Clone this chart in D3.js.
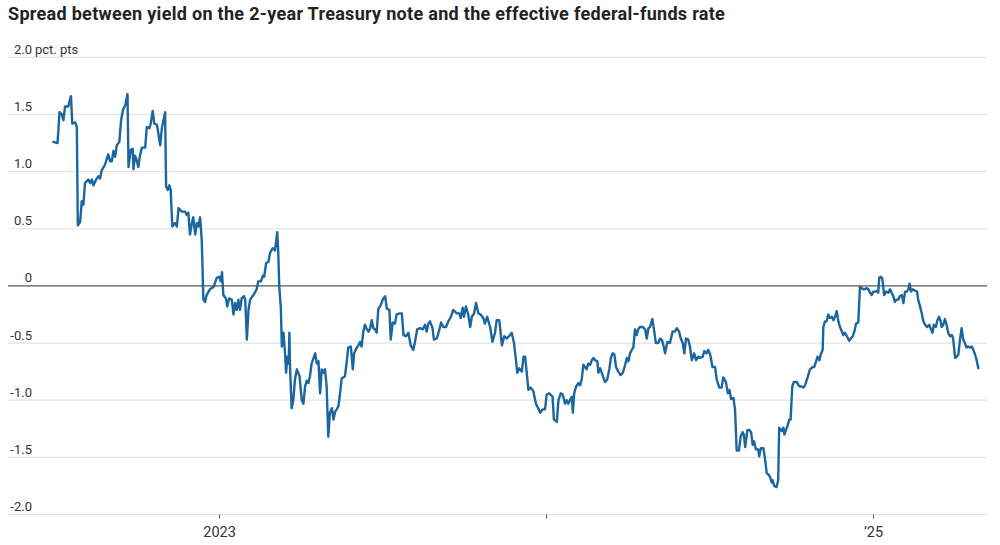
<!DOCTYPE html>
<html>
<head>
<meta charset="utf-8">
<script src="https://cdn.jsdelivr.net/npm/d3@7"></script>
<style>
  html, body { margin: 0; padding: 0; background: #fff; }
  svg { display: block; font-family: Roboto, "Noto Sans", sans-serif; }
</style>
</head>
<body>
<svg id="chart" width="1000" height="545"></svg>
<script>
// ─── DONNÉES ────────────────────────────────────────────────────────────────
const chartTitle = "Spread between yield on the 2-year Treasury note and the effective federal-funds rate";
const unitLabel = "pct. pts";

const yTicks = [2.0, 1.5, 1.0, 0.5, 0, -0.5, -1.0, -1.5, -2.0];
const yTickLabels = ["2.0", "1.5", "1.0", "0.5", "0", "-0.5", "-1.0", "-1.5", "-2.0"];
const xTicks = [2023, 2024, 2025];
const xTickLabels = ["2023", "", "\u201925"];

// observation dates, as decimal years
const obsYear = [
  2022.493, 2022.506, 2022.512, 2022.519, 2022.524, 2022.529, 2022.539, 2022.542, 2022.547, 2022.551,
  2022.560, 2022.565, 2022.568, 2022.575, 2022.580, 2022.585, 2022.590, 2022.600, 2022.606, 2022.611,
  2022.616, 2022.624, 2022.631, 2022.636, 2022.641, 2022.651, 2022.661, 2022.667, 2022.672, 2022.677,
  2022.682, 2022.687, 2022.695, 2022.700, 2022.706, 2022.713, 2022.720, 2022.723, 2022.730, 2022.736,
  2022.738, 2022.743, 2022.748, 2022.753, 2022.758, 2022.764, 2022.774, 2022.779, 2022.787, 2022.791,
  2022.797, 2022.802, 2022.810, 2022.814, 2022.820, 2022.825, 2022.835, 2022.838, 2022.843, 2022.848,
  2022.852, 2022.857, 2022.865, 2022.871, 2022.876, 2022.886, 2022.896, 2022.901, 2022.906, 2022.911,
  2022.917, 2022.921, 2022.927, 2022.932, 2022.937, 2022.942, 2022.947, 2022.952, 2022.957, 2022.962,
  2022.972, 2022.983, 2022.993, 2023.001, 2023.005, 2023.009, 2023.013, 2023.021, 2023.025, 2023.031,
  2023.039, 2023.044, 2023.049, 2023.054, 2023.059, 2023.064, 2023.069, 2023.076, 2023.080, 2023.085,
  2023.090, 2023.095, 2023.105, 2023.115, 2023.120, 2023.128, 2023.134, 2023.138, 2023.144, 2023.151,
  2023.156, 2023.164, 2023.171, 2023.178, 2023.181, 2023.184, 2023.189, 2023.192, 2023.197, 2023.202,
  2023.205, 2023.209, 2023.213, 2023.215, 2023.217, 2023.222, 2023.227, 2023.232, 2023.238, 2023.246,
  2023.253, 2023.258, 2023.263, 2023.268, 2023.273, 2023.278, 2023.283, 2023.294, 2023.299, 2023.304,
  2023.309, 2023.314, 2023.319, 2023.324, 2023.329, 2023.334, 2023.339, 2023.345, 2023.350, 2023.355,
  2023.360, 2023.365, 2023.370, 2023.375, 2023.385, 2023.391, 2023.395, 2023.403, 2023.409, 2023.413,
  2023.421, 2023.426, 2023.431, 2023.436, 2023.441, 2023.446, 2023.452, 2023.457, 2023.462, 2023.467,
  2023.472, 2023.477, 2023.482, 2023.487, 2023.494, 2023.502, 2023.508, 2023.513, 2023.521, 2023.525,
  2023.531, 2023.538, 2023.543, 2023.553, 2023.559, 2023.564, 2023.572, 2023.579, 2023.586, 2023.594,
  2023.599, 2023.606, 2023.615, 2023.623, 2023.630, 2023.635, 2023.640, 2023.645, 2023.653, 2023.657,
  2023.666, 2023.674, 2023.679, 2023.686, 2023.694, 2023.701, 2023.709, 2023.716, 2023.727, 2023.735,
  2023.739, 2023.745, 2023.749, 2023.755, 2023.762, 2023.768, 2023.773, 2023.780, 2023.786, 2023.793,
  2023.800, 2023.808, 2023.813, 2023.820, 2023.829, 2023.836, 2023.844, 2023.849, 2023.857, 2023.865,
  2023.872, 2023.880, 2023.890, 2023.895, 2023.902, 2023.908, 2023.912, 2023.918, 2023.926, 2023.931,
  2023.936, 2023.941, 2023.946, 2023.953, 2023.961, 2023.969, 2023.976, 2023.982, 2023.990, 2023.997,
  2024.002, 2024.010, 2024.020, 2024.024, 2024.033, 2024.038, 2024.045, 2024.051, 2024.058, 2024.063,
  2024.068, 2024.073, 2024.079, 2024.082, 2024.086, 2024.092, 2024.099, 2024.104, 2024.109, 2024.114,
  2024.119, 2024.124, 2024.129, 2024.135, 2024.140, 2024.145, 2024.150, 2024.157, 2024.160, 2024.165,
  2024.173, 2024.180, 2024.187, 2024.194, 2024.199, 2024.204, 2024.209, 2024.214, 2024.221, 2024.228,
  2024.235, 2024.242, 2024.247, 2024.252, 2024.257, 2024.262, 2024.267, 2024.272, 2024.277, 2024.282,
  2024.287, 2024.296, 2024.303, 2024.308, 2024.313, 2024.318, 2024.325, 2024.330, 2024.336, 2024.343,
  2024.349, 2024.354, 2024.359, 2024.364, 2024.371, 2024.379, 2024.387, 2024.394, 2024.400, 2024.407,
  2024.412, 2024.418, 2024.423, 2024.428, 2024.435, 2024.440, 2024.446, 2024.453, 2024.459, 2024.466,
  2024.471, 2024.479, 2024.484, 2024.491, 2024.496, 2024.502, 2024.509, 2024.517, 2024.522, 2024.530,
  2024.537, 2024.542, 2024.550, 2024.556, 2024.561, 2024.566, 2024.573, 2024.578, 2024.583, 2024.590,
  2024.595, 2024.601, 2024.605, 2024.609, 2024.616, 2024.622, 2024.627, 2024.632, 2024.636, 2024.642,
  2024.649, 2024.652, 2024.657, 2024.665, 2024.670, 2024.675, 2024.680, 2024.685, 2024.690, 2024.693,
  2024.698, 2024.705, 2024.710, 2024.713, 2024.721, 2024.726, 2024.729, 2024.734, 2024.739, 2024.744,
  2024.748, 2024.753, 2024.758, 2024.767, 2024.772, 2024.777, 2024.782, 2024.787, 2024.792, 2024.799,
  2024.807, 2024.816, 2024.820, 2024.826, 2024.830, 2024.836, 2024.840, 2024.846, 2024.848, 2024.853,
  2024.858, 2024.863, 2024.868, 2024.874, 2024.879, 2024.884, 2024.889, 2024.894, 2024.899, 2024.909,
  2024.914, 2024.920, 2024.927, 2024.932, 2024.938, 2024.943, 2024.948, 2024.955, 2024.960, 2024.965,
  2024.972, 2024.981, 2024.986, 2024.991, 2024.996, 2025.001, 2025.008, 2025.013, 2025.016, 2025.019,
  2025.023, 2025.028, 2025.031, 2025.034, 2025.040, 2025.047, 2025.052, 2025.057, 2025.062, 2025.067,
  2025.072, 2025.077, 2025.082, 2025.088, 2025.093, 2025.098, 2025.103, 2025.108, 2025.112, 2025.116,
  2025.121, 2025.128, 2025.135, 2025.138, 2025.144, 2025.149, 2025.154, 2025.159, 2025.166, 2025.172,
  2025.176, 2025.182, 2025.186, 2025.192, 2025.197, 2025.202, 2025.207, 2025.210, 2025.215, 2025.220,
  2025.225, 2025.230, 2025.235, 2025.241, 2025.245, 2025.251, 2025.256, 2025.261, 2025.266, 2025.271,
  2025.276, 2025.281, 2025.286, 2025.291, 2025.297, 2025.302, 2025.307, 2025.312, 2025.317, 2025.322
];

// 2-year yield minus effective fed funds rate, percentage points
const spreadPts = [
   1.26,  1.25,  1.52,  1.50,  1.45,  1.57,  1.57,  1.61,  1.66,  1.42,
   1.43,  1.39,  0.53,  0.56,  0.74,  0.71,  0.90,  0.93,  0.90,  0.93,
   0.88,  0.93,  0.96,  0.94,  1.01,  1.06,  1.15,  1.09,  1.09,  1.18,
   1.13,  1.23,  1.26,  1.44,  1.54,  1.58,  1.68,  1.04,  1.19,  1.20,
   1.02,  1.14,  1.10,  1.04,  1.14,  1.21,  1.21,  1.39,  1.38,  1.42,
   1.53,  1.42,  1.41,  1.34,  1.23,  1.38,  1.52,  0.87,  0.84,  0.88,
   0.84,  0.52,  0.55,  0.52,  0.68,  0.65,  0.65,  0.62,  0.64,  0.45,
   0.55,  0.60,  0.45,  0.55,  0.52,  0.60,  0.40, -0.12, -0.14, -0.08,
  -0.03, -0.01,  0.07,  0.08,  0.04,  0.12, -0.08, -0.11, -0.18, -0.11,
  -0.12, -0.25, -0.15, -0.21, -0.12, -0.21, -0.11, -0.09, -0.12, -0.47,
  -0.21, -0.12, -0.08, -0.03,  0.04,  0.04,  0.09,  0.08,  0.20,  0.21,
   0.29,  0.33,  0.31,  0.47,  0.29,  0.00, -0.20, -0.53, -0.41, -0.60,
  -0.76, -0.62, -0.68, -0.41, -0.71, -1.07, -1.00, -0.82, -0.73, -0.79,
  -1.00, -1.03, -0.88, -0.83, -0.85, -0.79, -0.68, -0.59, -0.68, -0.66,
  -0.94, -0.73, -0.76, -0.73, -0.88, -1.32, -1.11, -1.07, -1.17, -1.10,
  -1.08, -1.05, -0.94, -0.81, -0.79, -0.65, -0.54, -0.53, -0.73, -0.59,
  -0.54, -0.52, -0.49, -0.53, -0.40, -0.34, -0.38, -0.40, -0.37, -0.30,
  -0.37, -0.38, -0.41, -0.20, -0.17, -0.11, -0.09, -0.20, -0.21, -0.47,
  -0.32, -0.33, -0.25, -0.24, -0.24, -0.43, -0.44, -0.41, -0.52, -0.56,
  -0.49, -0.38, -0.37, -0.38, -0.34, -0.40, -0.33, -0.31, -0.37, -0.47,
  -0.46, -0.38, -0.32, -0.36, -0.36, -0.31, -0.27, -0.21, -0.24, -0.24,
  -0.28, -0.19, -0.27, -0.18, -0.25, -0.36, -0.27, -0.24, -0.15, -0.24,
  -0.25, -0.28, -0.33, -0.27, -0.36, -0.49, -0.41, -0.30, -0.30, -0.52,
  -0.44, -0.46, -0.43, -0.41, -0.50, -0.65, -0.76, -0.72, -0.75, -0.62,
  -0.62, -0.76, -0.91, -0.89, -0.92, -1.03, -1.07, -1.11, -1.08, -1.08,
  -0.95, -0.94, -0.97, -1.17, -1.19, -1.00, -0.94, -0.95, -1.03, -1.00,
  -1.03, -1.00, -0.97, -1.11, -0.94, -0.88, -0.85, -0.87, -0.82, -0.69,
  -0.71, -0.73, -0.68, -0.69, -0.65, -0.63, -0.65, -0.66, -0.76, -0.72,
  -0.78, -0.84, -0.82, -0.72, -0.62, -0.59, -0.60, -0.71, -0.75, -0.78,
  -0.76, -0.69, -0.63, -0.66, -0.59, -0.56, -0.54, -0.38, -0.43, -0.38,
  -0.36, -0.36, -0.38, -0.46, -0.37, -0.36, -0.29, -0.38, -0.50, -0.50,
  -0.46, -0.47, -0.52, -0.59, -0.49, -0.50, -0.40, -0.40, -0.37, -0.40,
  -0.46, -0.50, -0.59, -0.46, -0.47, -0.53, -0.65, -0.59, -0.65, -0.62,
  -0.63, -0.62, -0.57, -0.59, -0.56, -0.60, -0.71, -0.71, -0.82, -0.89,
  -0.89, -0.80, -0.84, -0.94, -0.91, -0.99, -0.98, -1.08, -1.44, -1.44,
  -1.32, -1.28, -1.30, -1.41, -1.26, -1.26, -1.28, -1.39, -1.36, -1.43,
  -1.43, -1.49, -1.42, -1.42, -1.52, -1.64, -1.65, -1.67, -1.72, -1.70,
  -1.75, -1.76, -1.70, -1.24, -1.27, -1.24, -1.30, -1.26, -1.22, -1.17,
  -1.17, -0.88, -0.84, -0.84, -0.87, -0.88, -0.88, -0.89, -0.87, -0.81,
  -0.73, -0.71, -0.71, -0.66, -0.62, -0.65, -0.60, -0.56, -0.36, -0.31,
  -0.31, -0.25, -0.28, -0.27, -0.30, -0.27, -0.22, -0.31, -0.36, -0.43,
  -0.41, -0.44, -0.48, -0.46, -0.44, -0.40, -0.33, -0.32, -0.01, -0.02,
  -0.03, -0.02, -0.03, -0.06, -0.08, -0.05, -0.05, -0.04, -0.06,  0.07,
   0.08,  0.07,  0.00, -0.08, -0.05, -0.06, -0.03, -0.06, -0.09, -0.14,
  -0.12, -0.12, -0.09, -0.08, -0.15, -0.05, -0.05, -0.03,  0.02, -0.05,
  -0.03, -0.04, -0.05, -0.12, -0.18, -0.24, -0.31, -0.34, -0.36, -0.34,
  -0.37, -0.41, -0.34, -0.36, -0.30, -0.27, -0.31, -0.36, -0.34, -0.29,
  -0.34, -0.41, -0.44, -0.43, -0.46, -0.63, -0.62, -0.60, -0.47, -0.37,
  -0.47, -0.50, -0.54, -0.53, -0.54, -0.53, -0.56, -0.60, -0.65, -0.72
];

// ─── STYLE ──────────────────────────────────────────────────────────────────
const lineColor = "#1c669f";
const gridColor = "#e2e2e2";
const zeroColor = "#555";
const textColor = "#333";

if (obsYear.length !== spreadPts.length) {
  console.error("Longueurs différentes :", obsYear.length, spreadPts.length);
}

const rows = obsYear.map((t, i) => ({ t: t, v: spreadPts[i] }));

const svg = d3.select("#chart");

const gridLeft = 8, gridRight = 987;

const x = d3.scaleLinear()
  .domain(d3.extent(obsYear))
  .range([53.3, 978.3]);

const y = d3.scaleLinear()
  .domain([-2, 2])
  .range([514.5, 57.3]);

// Titre
svg.append("text")
  .attr("x", 8)
  .attr("y", 19.5)
  .attr("fill", "#222")
  .style("font-size", "18px")
  .style("font-weight", "700")
  .style("letter-spacing", "0.3px")
  .text(chartTitle);

// Grille horizontale + étiquettes
const yAxis = svg.append("g");

yAxis.selectAll("line")
  .data(yTicks)
  .enter()
  .append("line")
  .attr("x1", gridLeft)
  .attr("x2", gridRight)
  .attr("y1", d => y(d))
  .attr("y2", d => y(d))
  .attr("stroke", d => d === 0 ? zeroColor : gridColor)
  .attr("stroke-width", d => d === 0 ? 1.3 : 1.2);

yAxis.selectAll("text.ylab")
  .data(yTicks)
  .enter()
  .append("text")
  .attr("class", "ylab")
  .attr("x", 32)
  .attr("y", d => y(d) - 3.5)
  .attr("text-anchor", "end")
  .attr("fill", textColor)
  .style("font-size", "13px")
  .text((d, i) => yTickLabels[i]);

svg.append("text")
  .attr("x", 35)
  .attr("y", y(yTicks[0]) - 3.5)
  .attr("fill", textColor)
  .style("font-size", "13px")
  .text(unitLabel);

// Axe X
svg.append("g")
  .attr("transform", `translate(0,${y(-2)})`)
  .call(d3.axisBottom(x)
    .tickValues(xTicks)
    .tickSize(4)
    .tickPadding(8)
    .tickFormat((d, i) => xTickLabels[i]))
  .call(g => g.select(".domain").remove())
  .call(g => g.selectAll(".tick line").attr("stroke", "#555"))
  .call(g => g.selectAll("text")
    .attr("fill", textColor)
    .style("font-size", "14.5px")
    .style("font-family", "Roboto, 'Noto Sans', sans-serif"));

// Courbe
const line = d3.line()
  .x(d => x(d.t))
  .y(d => y(d.v));

svg.append("path")
  .datum(rows)
  .attr("fill", "none")
  .attr("stroke", lineColor)
  .attr("stroke-width", 2.4)
  .attr("stroke-linejoin", "round")
  .attr("stroke-linecap", "round")
  .attr("d", line);
</script>
</body>
</html>
